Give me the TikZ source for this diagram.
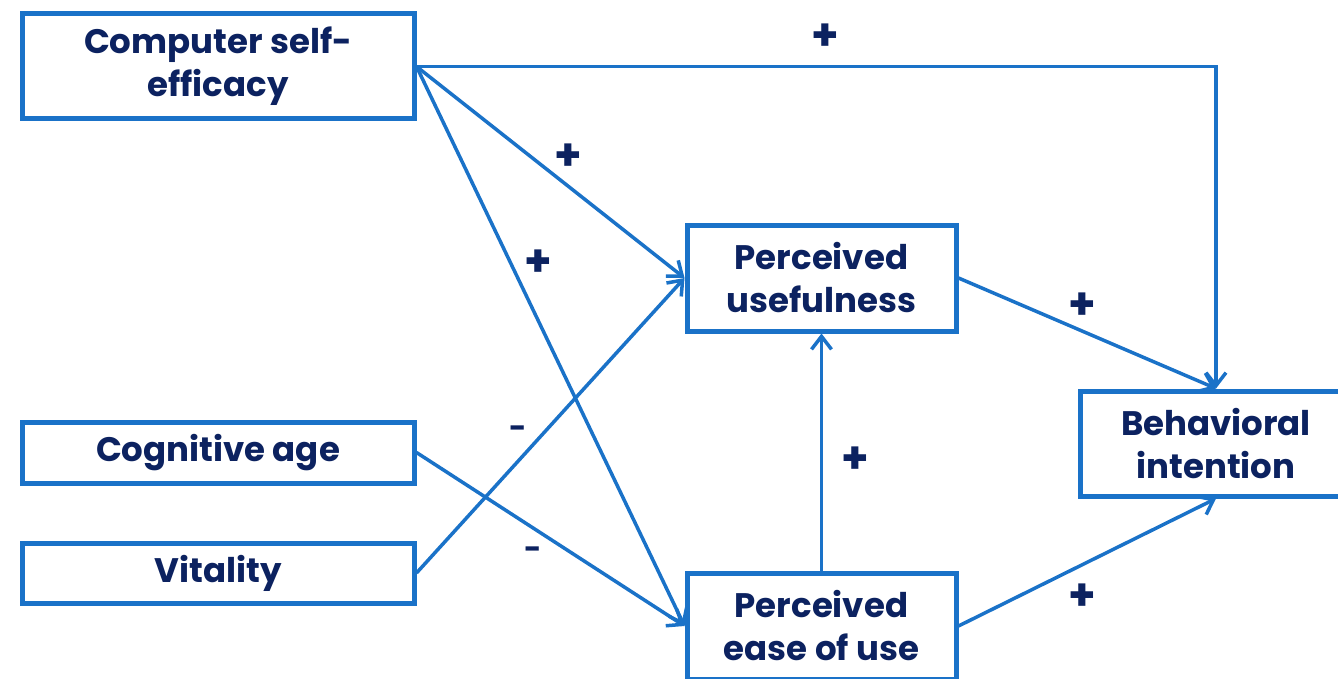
\documentclass[tikz,border=0pt]{standalone}
\usepackage{fontspec}
\setmainfont{Poppins}
\usetikzlibrary{arrows.meta}
\definecolor{lineblue}{RGB}{26,114,200}
\definecolor{textnavy}{RGB}{12,34,96}
\begin{document}
\begin{tikzpicture}[x=1pt,y=-1pt,
  box/.style={draw=lineblue,line width=5pt,fill=white,inner sep=0pt,align=center,
    text=textnavy,font=\fontsize{34}{43}\selectfont\bfseries},
  link/.style={draw=lineblue,line width=3.5pt,-{Straight Barb[length=13pt,width=20pt]}},
  sign/.style={text=textnavy,font=\fontsize{44}{44}\selectfont\bfseries},
  minus/.style={text=textnavy,font=\fontsize{30}{30}\selectfont\bfseries}]
\useasboundingbox (0,0) rectangle (1338,679);
\node[box,minimum width=392pt,minimum height=105pt] (cse) at (218,66.5) {Computer self-\\efficacy};
\node[box,minimum width=392pt,minimum height=61pt] (cog) at (218,452.5) {Cognitive age};
\node[box,minimum width=392pt,minimum height=60pt] (vit) at (218,573) {Vitality};
\node[box,minimum width=269pt,minimum height=106pt] (pu) at (821.5,278) {Perceived\\usefulness};
\node[box,minimum width=269pt,minimum height=106pt] (peou) at (821.5,626) {Perceived\\ease of use};
\node[box,minimum width=272pt,minimum height=105pt] (bi) at (1216,443.5) {Behavioral\\intention};
\draw[link] (cse.east) -| (bi.north);
\draw[link] (cse.east) -- (pu.west);
\draw[link] (cse.east) -- (peou.west);
\draw[link] (vit.east) -- (pu.west);
\draw[link] (cog.east) -- (peou.west);
\draw[link] (peou.north) -- (pu.south);
\draw[link] (pu.east) -- (bi.north);
\draw[link] (peou.east) -- (bi.south);
\node[sign] (s1) at (825,37) {+};
\node[sign] (s2) at (568,157) {+};
\node[sign] (s3) at (538,263) {+};
\node[minus] (s4) at (518,432) {-};
\node[minus] (s5) at (533,553) {-};
\node[sign] (s6) at (855,460) {+};
\node[sign] (s7) at (1082,306) {+};
\node[sign] (s8) at (1082,597) {+};
\end{tikzpicture}
\end{document}
